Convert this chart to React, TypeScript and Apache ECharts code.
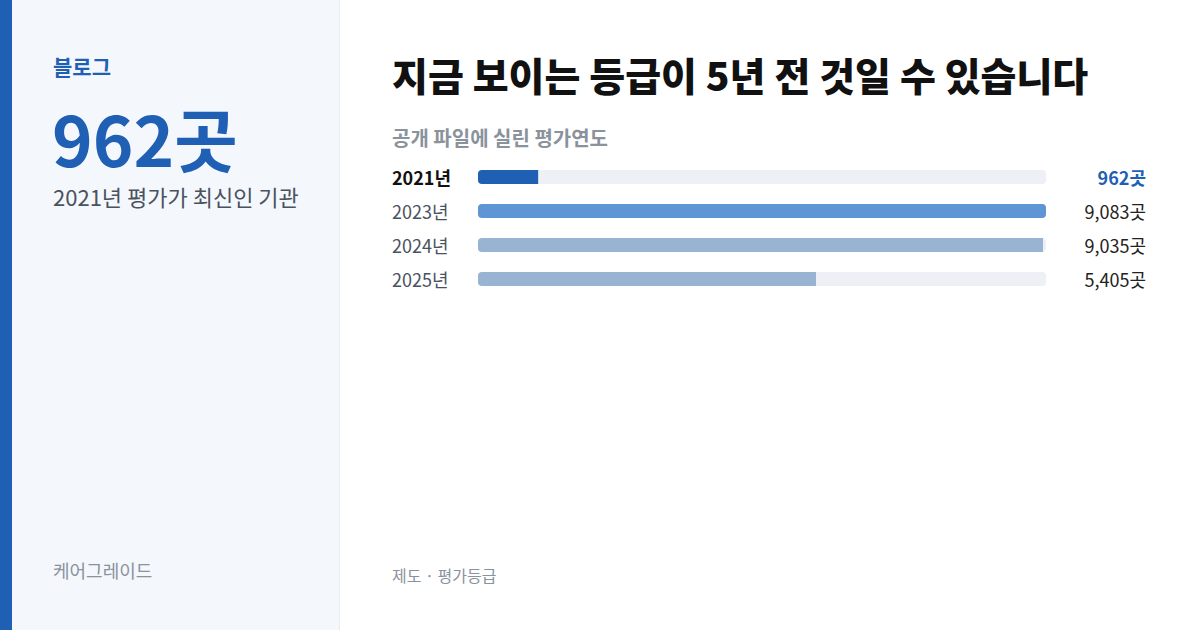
import React, { useEffect, useRef } from "react";
import * as echarts from "echarts";

const categories = ["2021년", "2023년", "2024년", "2025년"];
const values = [962, 9083, 9035, 5405];
const valueLabels = ["962곳", "9,083곳", "9,035곳", "5,405곳"];
const barColors = ["#1f5fb4", "#5f95d4", "#98b4d2", "#98b4d2"];

const FONT = "'Noto Sans CJK KR', 'Noto Sans', sans-serif";

export default function App() {
  const ref = useRef<HTMLDivElement>(null);
  useEffect(() => {
    if (!ref.current) return;
    const chart = echarts.init(ref.current, null, { renderer: "svg", width: 1200, height: 630 });
    const maxV = Math.max(...values);
    chart.setOption({
      animation: false,
      backgroundColor: "#ffffff",
      textStyle: { fontFamily: FONT },
      graphic: [
        { type: "rect", shape: { x: 0, y: 0, width: 340, height: 630 }, style: { fill: "#f4f7fc" }, z: 0 },
        { type: "rect", shape: { x: 339, y: 0, width: 1, height: 630 }, style: { fill: "#e6ebf2" }, z: 0 },
        { type: "rect", shape: { x: 0, y: 0, width: 12, height: 630 }, style: { fill: "#1f5fb4" }, z: 1 },
        { type: "text", x: 53, y: 66, style: { text: "블로그", font: `bold 21px ${FONT}`, fill: "#1f5fb4", textVerticalAlign: "middle" } },
        { type: "text", x: 52, y: 137, style: { text: "962곳", font: `bold 69px ${FONT}`, lineHeight: 62, fill: "#1f5fb4", textVerticalAlign: "middle" } },
        { type: "text", x: 53, y: 196, style: { text: "2021년 평가가 최신인 기관", font: `22px ${FONT}`, lineHeight: 24, fill: "#4a5260", textVerticalAlign: "middle" } },
        { type: "text", x: 53, y: 570, style: { text: "케어그레이드", font: `18px ${FONT}`, fill: "#8a929c", textVerticalAlign: "middle" } },
        { type: "text", x: 392, y: 74, style: { text: "지금 보이는 등급이 5년 전 것일 수 있습니다", font: `900 39px ${FONT}`, fill: "#111111", textVerticalAlign: "middle" } },
        { type: "text", x: 392, y: 137, style: { text: "공개 파일에 실린 평가연도", font: `bold 20px ${FONT}`, fill: "#8a929c", textVerticalAlign: "middle" } },
        { type: "text", x: 392, y: 575, style: { text: "제도 · 평가등급", font: `16px ${FONT}`, fill: "#8a929c", textVerticalAlign: "middle" } },
      ],
      grid: { left: 478, right: 154, top: 160, height: 136 },
      xAxis: { type: "value", min: 0, max: maxV, show: false },
      yAxis: [
        {
          type: "category",
          data: categories,
          inverse: true,
          axisLine: { show: false },
          axisTick: { show: false },
          axisLabel: {
            align: "left",
            margin: 86,
            fontSize: 18,
            fontFamily: FONT,
            formatter: (v: string, i: number) => (i === 0 ? `{b|${v}}` : `{n|${v}}`),
            rich: {
              b: { fontWeight: "bold", color: "#111111", fontSize: 18, fontFamily: FONT },
              n: { color: "#4a5260", fontSize: 18, fontFamily: FONT },
            },
          },
        },
        {
          type: "category",
          data: valueLabels,
          inverse: true,
          position: "right",
          axisLine: { show: false },
          axisTick: { show: false },
          axisLabel: {
            align: "right",
            margin: 100,
            fontSize: 18,
            fontFamily: FONT,
            formatter: (v: string, i: number) => (i === 0 ? `{b|${v}}` : `{n|${v}}`),
            rich: {
              b: { fontWeight: "bold", color: "#1f5fb4", fontSize: 18, fontFamily: FONT },
              n: { color: "#222222", fontSize: 18, fontFamily: FONT },
            },
          },
        },
      ],
      series: [
        {
          type: "bar",
          barWidth: 14,
          showBackground: true,
          backgroundStyle: { color: "#edf0f4", borderRadius: 4 },
          data: values.map((v, i) => ({
            value: v,
            itemStyle: { color: barColors[i], borderRadius: v === maxV ? 4 : [4, 0, 0, 4] },
          })),
        },
      ],
    });
    return () => chart.dispose();
  }, []);
  return <div ref={ref} style={{ position: "fixed", left: 0, top: 0, width: 1200, height: 630 }} />;
}
